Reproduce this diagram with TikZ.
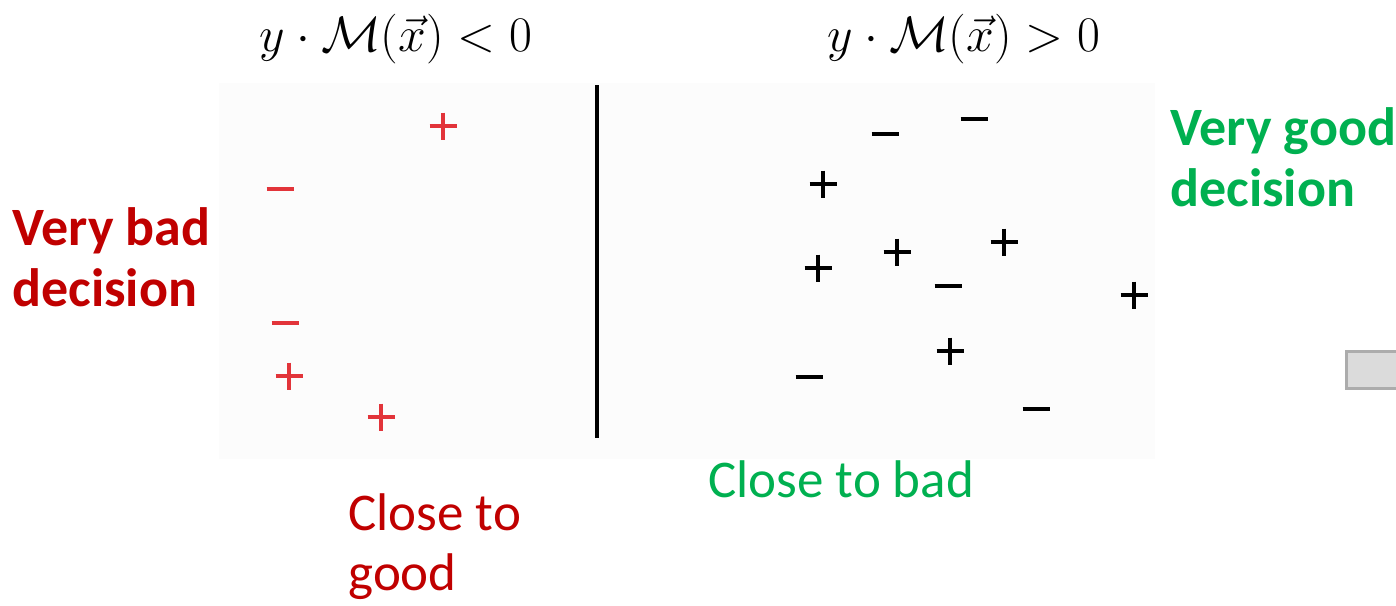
\documentclass[tikz,border=0pt]{standalone}
\usepackage{fontspec}
\newfontfamily\calibri{Carlito}
\usepackage{xcolor}
\definecolor{badred}{RGB}{192,0,0}
\definecolor{goodgreen}{RGB}{0,176,80}
\definecolor{markred}{RGB}{226,52,58}
\definecolor{panelbg}{RGB}{252,252,252}

\begin{document}
\begin{tikzpicture}[x=0.5pt,y=-0.5pt]
\useasboundingbox (0,0) rectangle (1396,605);
\fill[panelbg](219,83) rectangle (1155,459);
\draw[line width=2pt](597,85)--(597,438);
\foreach \x/\y in {443/126,289/376,381/417}{
  \draw[markred,line width=1.7pt](\x-13.5,\y)--(\x+13.5,\y)(\x,\y-13.5)--(\x,\y+13.5);}
\foreach \x/\y in {280/189,285/323}{
  \draw[markred,line width=1.7pt](\x-13.5,\y)--(\x+13.5,\y);}
\foreach \x/\y in {823/184,818/268,897/252,1004/242,1134/295,950/351}{
  \draw[line width=2pt](\x-13.5,\y)--(\x+13.5,\y)(\x,\y-13.5)--(\x,\y+13.5);}
\foreach \x/\y in {885/134,974/119,948/286,809/377,1036/409}{
  \draw[line width=2pt](\x-13.5,\y)--(\x+13.5,\y);}
\draw[gray!65,line width=1.5pt,fill=gray!28](1346,351) rectangle (1402,388);
\node[font=\fontsize{23}{27}\selectfont,anchor=base] (neg) at (396,51) {$y\cdot\mathcal{M}(\vec{x})<0$};
\node[font=\fontsize{23}{27}\selectfont,anchor=base] (pos) at (964,51) {$y\cdot\mathcal{M}(\vec{x})>0$};
\node[font=\calibri\bfseries\fontsize{27}{30.5}\selectfont,text=badred,align=left,anchor=base west,inner sep=0pt] (bad) at (12,306) {Very bad\\decision};
\node[font=\calibri\bfseries\fontsize{27}{30.5}\selectfont,text=goodgreen,align=left,anchor=base west,inner sep=0pt] (good) at (1170,206) {Very good\\decision};
\node[font=\calibri\fontsize{26.5}{30}\selectfont,text=goodgreen,anchor=base west,inner sep=0pt] (nearbad) at (708,497) {Close to bad};
\node[font=\calibri\fontsize{26.5}{30}\selectfont,text=badred,align=left,anchor=base west,inner sep=0pt] (neargood) at (348,590) {Close to\\good};
\end{tikzpicture}
\end{document}
